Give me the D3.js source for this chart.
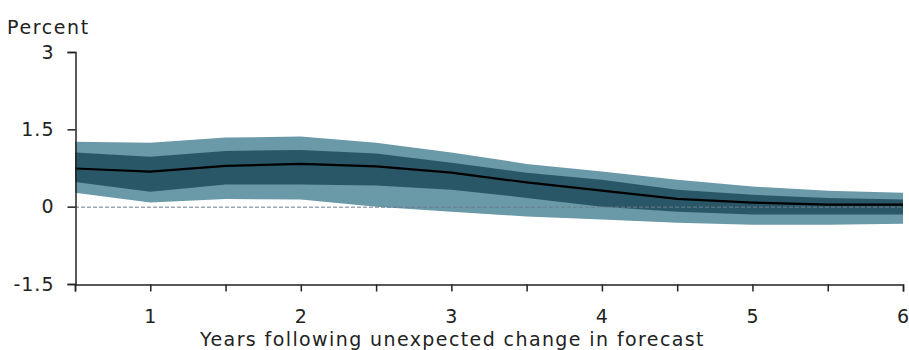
<!DOCTYPE html>
<html>
<head>
<meta charset="utf-8">
<script src="https://cdn.jsdelivr.net/npm/d3@7"></script>
<style>
  body { margin: 0; background: #fff; }
  svg { display: block; font-family: 'DejaVu Sans', Verdana, sans-serif; }
</style>
</head>
<body>
<div id="chart"></div>
<script>
'use strict';

// Years after the forecast surprise (half-year steps)
const years = [0.5, 1, 1.5, 2, 2.5, 3, 3.5, 4, 4.5, 5, 5.5, 6];
// Median response, percent
const median = [0.74, 0.68, 0.79, 0.83, 0.78, 0.66, 0.47, 0.31, 0.15, 0.08, 0.04, 0.04];
// Inner band (dark)
const innerHi = [1.05, 0.97, 1.08, 1.10, 1.03, 0.85, 0.66, 0.52, 0.33, 0.23, 0.17, 0.14];
const innerLo = [0.48, 0.29, 0.43, 0.43, 0.41, 0.33, 0.17, 0.00, -0.10, -0.15, -0.15, -0.15];
// Outer band (light)
const outerHi = [1.26, 1.24, 1.34, 1.36, 1.24, 1.05, 0.83, 0.68, 0.52, 0.39, 0.31, 0.27];
const outerLo = [0.27, 0.08, 0.15, 0.14, 0.00, -0.10, -0.19, -0.25, -0.31, -0.35, -0.35, -0.33];

const yTicks = [-1.5, 0, 1.5, 3];
const xTicks = [0.5, 1, 1.5, 2, 2.5, 3, 3.5, 4, 4.5, 5, 5.5, 6];
const xLabels = [1, 2, 3, 4, 5, 6];

const W = 909, H = 350;
const margin = { top: 52, right: 6, bottom: 66, left: 75 };
const FONT = 19;

const svg = d3.select('#chart').append('svg')
    .attr('width', W)
    .attr('height', H);

const x = d3.scaleLinear()
    .domain([0.5, 6])
    .range([margin.left, W - margin.right]);

const y = d3.scaleLinear()
    .domain([-1.5, 3])
    .range([H - margin.bottom, margin.top]);

const rows = years.map((t, i) => ({
    t, m: median[i], ih: innerHi[i], il: innerLo[i], oh: outerHi[i], ol: outerLo[i]
}));

const band = (lo, hi) => d3.area()
    .x(d => x(d.t))
    .y0(d => y(d[lo]))
    .y1(d => y(d[hi]));

// Outer band
svg.append('path')
    .datum(rows)
    .attr('fill', '#6a9aa8')
    .attr('d', band('ol', 'oh'));

// Inner band
svg.append('path')
    .datum(rows)
    .attr('fill', '#2a5767')
    .attr('d', band('il', 'ih'));

// Zero reference line
svg.append('line')
    .attr('x1', x(0.5))
    .attr('x2', x(6))
    .attr('y1', y(0) + 0.5)
    .attr('y2', y(0) + 0.5)
    .attr('stroke', '#6c7c8e')
    .attr('stroke-width', 1)
    .attr('stroke-dasharray', '4,2');

// Median line
svg.append('path')
    .datum(rows)
    .attr('fill', 'none')
    .attr('stroke', '#000')
    .attr('stroke-width', 2.2)
    .attr('d', d3.line().x(d => x(d.t)).y(d => y(d.m)));

// Y axis
const yAxis = svg.append('g')
    .attr('transform', `translate(${margin.left + 0.5},0)`)
    .call(d3.axisLeft(y).tickValues(yTicks).tickSize(8).tickPadding(13)
        .tickFormat(d => String(d)));

// X axis
const xAxis = svg.append('g')
    .attr('transform', `translate(0,${H - margin.bottom + 0.5})`)
    .call(d3.axisBottom(x).tickValues(xTicks).tickSize(7)
        .tickFormat(d => xLabels.includes(d) ? d : ''));

[yAxis, xAxis].forEach(g => {
    g.select('.domain').attr('stroke', '#222').attr('stroke-width', 1.5);
    g.selectAll('.tick line').attr('stroke', '#222').attr('stroke-width', 1.5);
    g.selectAll('.tick text')
        .attr('fill', '#222')
        .attr('font-size', FONT)
        .attr('letter-spacing', 1)
        .attr('font-family', "'DejaVu Sans', Verdana, sans-serif");
});
xAxis.selectAll('.tick text').attr('dy', '1.5em');

// Y unit label
svg.append('text')
    .attr('x', 7)
    .attr('y', 34)
    .attr('fill', '#222')
    .attr('font-size', FONT)
    .attr('letter-spacing', 1.6)
    .text('Percent');

// X axis title
svg.append('text')
    .attr('x', (197 + 708) / 2)
    .attr('y', 346)
    .attr('text-anchor', 'middle')
    .attr('fill', '#222')
    .attr('font-size', FONT)
    .attr('letter-spacing', 1.4)
    .text('Years following unexpected change in forecast');
</script>
</body>
</html>
